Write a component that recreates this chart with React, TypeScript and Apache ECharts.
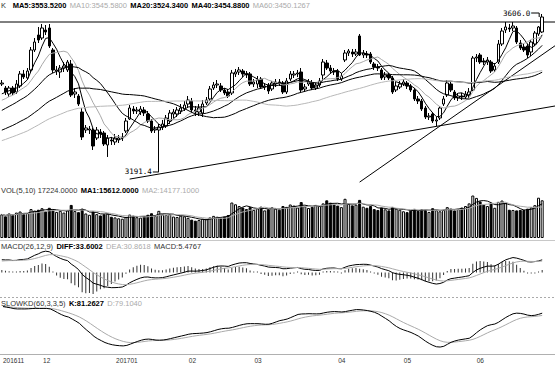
import React, { useEffect, useRef } from 'react';
import * as echarts from 'echarts';

const monthLabels = ['201611', '12', '201701', '02', '03', '04', '05', '06'];
const monthDays = [12, 22, 18, 18, 23, 18, 20, 18];

// closes before the visible window (warm-up for MA / MACD / KD)
const preCloses = [
  3205, 3212, 3198, 3190, 3208, 3215, 3222, 3210, 3200, 3218, 3226, 3231, 3225, 3220, 3214, 3228, 3235, 3230, 3238, 3232,
  3228, 3236, 3241, 3233, 3226, 3238, 3247, 3252, 3244, 3250, 3258, 3249, 3243, 3251, 3260, 3255, 3248, 3257, 3262, 3254,
  3280, 3296, 3305, 3298, 3312, 3325, 3336, 3330, 3348, 3362,
  3352, 3361, 3355, 3366, 3362, 3372, 3380, 3391, 3388, 3398,
];

// [open, close, low, high]
const candles = [
  [3422.3, 3424.9, 3417.1, 3432.8], [3411.8, 3401.3, 3393.4, 3417.1], [3396.1, 3411.8, 3388.2, 3417.1], [3411.8, 3398.7, 3393.4, 3417.1],
  [3401.3, 3422.3, 3396.1, 3432.8], [3417.1, 3448.6, 3411.8, 3456.4], [3448.6, 3440.7, 3435.4, 3459.1], [3438.1, 3456.4, 3432.8, 3464.3],
  [3459.1, 3511.5, 3453.8, 3519.4], [3511.5, 3532.5, 3506.3, 3543.0], [3550.9, 3537.8, 3529.9, 3571.9], [3543.0, 3569.3, 3537.8, 3579.8],
  [3564.0, 3558.8, 3550.9, 3577.1], [3569.3, 3522.0, 3516.8, 3579.8], [3511.5, 3459.1, 3451.2, 3516.8], [3456.4, 3459.1, 3445.9, 3469.5],
  [3453.8, 3464.3, 3438.1, 3472.2], [3464.3, 3469.5, 3453.8, 3480.0], [3459.1, 3480.0, 3453.8, 3485.3], [3474.8, 3393.4, 3388.2, 3485.3],
  [3396.1, 3401.3, 3385.6, 3411.8], [3390.8, 3369.8, 3364.6, 3396.1], [3348.8, 3283.2, 3275.4, 3359.3], [3301.6, 3306.9, 3293.7, 3314.7],
  [3301.6, 3304.2, 3291.1, 3312.1], [3301.6, 3259.6, 3249.1, 3306.9], [3280.6, 3301.6, 3275.4, 3309.5], [3296.4, 3291.1, 3280.6, 3304.2],
  [3293.7, 3264.9, 3259.6, 3299.0], [3262.3, 3280.6, 3230.8, 3288.5], [3275.4, 3272.8, 3262.3, 3283.2], [3270.1, 3280.6, 3262.3, 3291.1],
  [3275.4, 3280.6, 3267.5, 3288.5], [3280.6, 3283.2, 3272.8, 3293.7], [3299.0, 3325.2, 3293.7, 3333.1], [3330.5, 3359.3, 3327.9, 3367.2],
  [3356.7, 3351.5, 3343.6, 3364.6], [3351.5, 3354.1, 3343.6, 3362.0], [3348.8, 3356.7, 3341.0, 3364.6], [3354.1, 3346.2, 3338.3, 3362.0],
  [3343.6, 3325.2, 3320.0, 3351.5], [3325.2, 3299.0, 3293.7, 3330.5], [3301.6, 3304.2, 3293.7, 3312.1], [3301.6, 3309.5, 3191.4, 3317.4],
  [3309.5, 3317.4, 3301.6, 3327.9], [3312.1, 3333.1, 3306.9, 3341.0], [3325.2, 3346.2, 3317.4, 3354.1], [3343.6, 3348.8, 3333.1, 3356.7],
  [3343.6, 3354.1, 3335.7, 3362.0], [3351.5, 3359.3, 3343.6, 3369.8], [3356.7, 3367.2, 3351.5, 3377.7], [3369.8, 3380.3, 3359.3, 3390.8],
  [3377.7, 3354.1, 3346.2, 3385.6], [3354.1, 3348.8, 3338.3, 3364.6], [3348.8, 3359.3, 3338.3, 3369.8], [3346.2, 3369.8, 3335.7, 3380.3],
  [3372.5, 3380.3, 3367.2, 3388.2], [3383.0, 3409.2, 3377.7, 3417.1], [3411.8, 3419.7, 3406.6, 3427.6], [3419.7, 3422.3, 3411.8, 3432.8],
  [3417.1, 3406.6, 3401.3, 3424.9], [3406.6, 3398.7, 3393.4, 3411.8], [3401.3, 3390.8, 3385.6, 3409.2], [3398.7, 3451.2, 3393.4, 3459.1],
  [3448.6, 3453.8, 3440.7, 3461.7], [3453.8, 3459.1, 3445.9, 3466.9], [3456.4, 3448.6, 3440.7, 3461.7], [3448.6, 3445.9, 3438.1, 3456.4],
  [3448.6, 3422.3, 3417.1, 3453.8], [3422.3, 3427.6, 3414.4, 3435.4], [3422.3, 3432.8, 3411.8, 3443.3], [3435.4, 3414.4, 3409.2, 3440.7],
  [3414.4, 3417.1, 3406.6, 3424.9], [3419.7, 3403.9, 3396.1, 3424.9], [3409.2, 3424.9, 3403.9, 3430.2], [3422.3, 3427.6, 3414.4, 3435.4],
  [3427.6, 3424.9, 3417.1, 3435.4], [3424.9, 3401.3, 3396.1, 3430.2], [3401.3, 3430.2, 3396.1, 3438.1], [3435.4, 3448.6, 3430.2, 3456.4],
  [3445.9, 3448.6, 3438.1, 3456.4], [3448.6, 3451.2, 3440.7, 3459.1], [3453.8, 3406.6, 3401.3, 3464.3], [3409.2, 3414.4, 3401.3, 3422.3],
  [3422.3, 3427.6, 3417.1, 3435.4], [3424.9, 3411.8, 3406.6, 3432.8], [3411.8, 3419.7, 3406.6, 3427.6], [3419.7, 3430.2, 3414.4, 3438.1],
  [3445.9, 3480.0, 3432.8, 3487.9], [3477.4, 3464.3, 3459.1, 3485.3], [3464.3, 3456.4, 3448.6, 3472.2], [3456.4, 3453.8, 3445.9, 3464.3],
  [3456.4, 3435.4, 3430.2, 3461.7], [3435.4, 3443.3, 3430.2, 3451.2], [3485.3, 3503.7, 3480.0, 3511.5], [3503.7, 3508.9, 3495.8, 3514.2],
  [3506.3, 3501.0, 3493.2, 3514.2], [3501.0, 3506.3, 3495.8, 3514.2], [3548.3, 3498.4, 3495.8, 3553.5], [3498.4, 3503.7, 3490.5, 3511.5],
  [3501.0, 3498.4, 3490.5, 3508.9], [3501.0, 3480.0, 3474.8, 3506.3], [3474.8, 3466.9, 3459.1, 3480.0], [3466.9, 3464.3, 3456.4, 3474.8],
  [3459.1, 3438.1, 3432.8, 3464.3], [3440.7, 3445.9, 3432.8, 3453.8], [3445.9, 3438.1, 3432.8, 3451.2], [3438.1, 3401.3, 3396.1, 3443.3],
  [3406.6, 3417.1, 3401.3, 3427.6], [3414.4, 3422.3, 3409.2, 3430.2], [3422.3, 3427.6, 3417.1, 3435.4], [3424.9, 3417.1, 3409.2, 3430.2],
  [3417.1, 3406.6, 3401.3, 3422.3], [3406.6, 3383.0, 3377.7, 3411.8], [3383.0, 3377.7, 3369.8, 3390.8], [3377.7, 3356.7, 3351.5, 3383.0],
  [3359.3, 3335.7, 3330.5, 3364.6], [3335.7, 3338.3, 3327.9, 3346.2], [3343.6, 3325.2, 3320.0, 3348.8], [3325.2, 3327.9, 3312.1, 3335.7],
  [3333.1, 3359.3, 3327.9, 3364.6], [3369.8, 3383.0, 3364.6, 3390.8], [3393.4, 3424.9, 3388.2, 3432.8], [3422.3, 3406.6, 3401.3, 3427.6],
  [3401.3, 3385.6, 3380.3, 3406.6], [3385.6, 3390.8, 3377.7, 3398.7], [3390.8, 3388.2, 3380.3, 3398.7], [3388.2, 3396.1, 3383.0, 3403.9],
  [3393.4, 3401.3, 3385.6, 3411.8], [3406.6, 3490.5, 3403.9, 3495.8], [3490.5, 3493.2, 3480.0, 3501.0], [3498.4, 3480.0, 3474.8, 3503.7],
  [3482.7, 3480.0, 3472.2, 3490.5], [3480.0, 3485.3, 3472.2, 3493.2], [3480.0, 3456.4, 3451.2, 3485.3], [3459.1, 3469.5, 3453.8, 3477.4],
  [3480.0, 3527.3, 3474.8, 3537.8], [3527.3, 3561.4, 3522.0, 3569.3], [3564.0, 3571.9, 3556.1, 3585.0], [3569.3, 3566.6, 3558.8, 3579.8],
  [3569.3, 3574.5, 3561.4, 3585.0], [3569.3, 3532.5, 3527.3, 3574.5], [3529.9, 3516.8, 3511.5, 3537.8], [3519.4, 3511.5, 3506.3, 3527.3],
  [3522.0, 3498.4, 3490.5, 3527.3], [3506.3, 3532.5, 3495.8, 3537.8], [3527.3, 3556.1, 3522.0, 3561.4], [3553.5, 3571.9, 3548.3, 3574.5],
  [3558.8, 3598.1, 3556.1, 3606.0],
];

const volumes = [
  10800, 9900, 11200, 10400, 11600, 12100, 10900, 11400, 13200, 12500,
  12900, 13600, 12200, 13800, 12700,
  11900, 12400, 11600, 12800, 15100, 12300, 11800,
  13400, 11200, 10600, 12100, 10900, 10300,
  10800, 11100, 9700, 9400, 9000, 8800, 9600, 10700, 10200, 9500, 9300,
  9900, 10600, 11300, 10100, 12400, 10800, 10500, 10900, 9800, 9600, 10200, 9900,
  9200, 8400, 7900, 8200, 8800, 8600,
  9400, 10100, 9700, 9200, 9800, 10500,
  16200, 15400, 14600,
  13900, 13200, 14100, 12800, 13500, 14300, 12600, 13100, 14000, 13400, 12900,
  14600, 14200, 15300, 14800, 13900, 16400, 14500, 13700,
  14200, 15100, 14600, 15800, 17200, 16100, 15400, 14800,
  14100, 17900, 15600, 14900, 15200, 17400, 14300, 13800, 14600,
  13200, 12800, 13900, 13100, 12600, 14200, 13400, 12900, 12200, 11800, 12500, 13300,
  12400, 13100, 12800, 11900, 13600, 12700, 12200, 12900, 14100, 13400, 12600, 13200,
  13900, 14600, 15800, 19400, 18300, 16700,
  15200, 14600, 15900, 13800, 16500, 17100, 15900, 12900,
  12800, 12600, 12800, 12800,
  13400, 14000, 15000, 18400, 17224,
];

const maPeriods = [5, 10, 20, 40, 60];
const maColors = ['#000000', '#a8a8a8', '#000000', '#000000', '#b8b8b8'];
const resistancePrice = 3585.0;
// trend lines: two anchor points [index, price]
const trendLines = [
  [[35, 3172.8], [148, 3358.8]],
  [[98, 3164.9], [148, 3499.2]],
];

const legendMain = '{n|K}  {b|MA5:3553.5200} {g|MA10:3545.5800} {b|MA20:3524.3400} {b|MA40:3454.8800} {g|MA60:3450.1267}';
const legendVol = '{n|VOL(5,10) 17224.0000} {b|MA1:15612.0000} {g|MA2:14177.1000}';
const legendMacd = '{n|MACD(26,12,9)} {b|DIFF:33.6002} {g|DEA:30.8618} {n|MACD:5.4767}';
const legendKd = '{n|SLOWKD(60,3,3,5)} {b|K:81.2627} {g|D:79.1040}';

const FONT = 'Liberation Sans, Arial, sans-serif';
const rich = {
  n: { fill: '#333', fontSize: 7.5, fontFamily: FONT },
  b: { fill: '#000', fontSize: 7.5, fontFamily: FONT, fontWeight: 'bold' },
  g: { fill: '#aaaaaa', fontSize: 7.5, fontFamily: FONT },
};

export default function App() {
  const ref = useRef<HTMLDivElement>(null);
  useEffect(() => {
    const chart = echarts.init(ref.current!, undefined, { renderer: 'svg' });

    const categories: string[] = [];
    monthLabels.forEach((m, mi) => {
      for (let d = 0; d < monthDays[mi]; d++) categories.push(m + '-' + d);
    });

    const P = preCloses.length;
    const closes = candles.map((c) => c[1]);
    const allCloses = preCloses.concat(closes);
    const allHighs = preCloses.concat(candles.map((c) => c[3]));
    const allLows = preCloses.concat(candles.map((c) => c[2]));

    const ma = (n: number) =>
      closes.map((_, i) => {
        let s = 0;
        for (let k = P + i - n + 1; k <= P + i; k++) s += allCloses[k];
        return +(s / n).toFixed(2);
      });

    const ema = (arr: number[], n: number) => {
      const out: number[] = [];
      arr.forEach((v, i) => out.push(i === 0 ? v : (2 * v + (n - 1) * out[i - 1]) / (n + 1)));
      return out;
    };
    const e12 = ema(allCloses, 12);
    const e26 = ema(allCloses, 26);
    const diffAll = e12.map((v, i) => v - e26[i]);
    const deaAll = ema(diffAll, 9);
    const diff = diffAll.slice(P);
    const dea = deaAll.slice(P);
    const hist = diff.map((v, i) => 2 * (v - dea[i]));

    const N = 60;
    let fk = 0, kk = 0, dd = 0;
    const K: number[] = [], D: number[] = [];
    for (let t = 0; t < allCloses.length; t++) {
      let hi = -Infinity, lo = Infinity;
      for (let j = Math.max(0, t - N + 1); j <= t; j++) {
        hi = Math.max(hi, allHighs[j]);
        lo = Math.min(lo, allLows[j]);
      }
      const rsv = hi > lo ? ((allCloses[t] - lo) / (hi - lo)) * 100 : 50;
      if (t === 0) { fk = rsv; kk = rsv; dd = rsv; }
      else { fk = (rsv + 2 * fk) / 3; kk = (fk + 2 * kk) / 3; dd = (kk + 4 * dd) / 5; }
      K.push(kk); D.push(dd);
    }
    const kVis = K.slice(P), dVis = D.slice(P);

    const volMa = (n: number) =>
      volumes.map((_, i) => {
        const s = Math.max(0, i - n + 1);
        let sum = 0;
        for (let j = s; j <= i; j++) sum += volumes[j];
        return sum / (i - s + 1);
      });

    const macdMax = Math.max(...diff.map(Math.abs), ...dea.map(Math.abs), ...hist.map(Math.abs)) * 1.05;

    const grids = [
      { left: 0, right: 11, top: 10, height: 170 },
      { left: 0, right: 11, top: 192, height: 46 },
      { left: 0, right: 11, top: 250, height: 45 },
      { left: 0, right: 11, top: 306, height: 47 },
    ];
    const xAxes = grids.map((_, gi) => ({
      type: 'category',
      gridIndex: gi,
      data: categories,
      boundaryGap: true,
      axisLine: { show: false },
      axisTick: { show: false },
      splitLine: { show: false },
      axisLabel:
        gi === 3
          ? {
              show: true,
              interval: (_i: number, v: string) => v.endsWith('-0'),
              formatter: (v: string) => (v.endsWith('-0') ? v.split('-')[0] : ''),
              fontSize: 6.5,
              fontFamily: FONT,
              color: '#333',
              margin: 4,
              alignMinLabel: 'left',
            }
          : { show: false },
    }));
    const yBase = { show: false, splitLine: { show: false } };

    const series: any[] = [
      {
        type: 'candlestick',
        xAxisIndex: 0,
        yAxisIndex: 0,
        data: candles,
        barWidth: 3,
        itemStyle: { color: '#ffffff', color0: '#000000', borderColor: '#000000', borderColor0: '#000000', borderWidth: 1 },
      },
    ];
    maPeriods.forEach((n, k) => {
      series.push({
        type: 'line', xAxisIndex: 0, yAxisIndex: 0, data: ma(n), showSymbol: false, symbol: 'none',
        lineStyle: { width: 1, color: maColors[k] }, z: 3,
      });
    });
    series.push({
      type: 'bar', xAxisIndex: 1, yAxisIndex: 1, barWidth: 3,
      data: volumes.map((v, i) => ({
        value: v,
        itemStyle: { color: candles[i][1] >= candles[i][0] ? '#ffffff' : '#000000', borderColor: '#000000', borderWidth: 1 },
      })),
    });
    series.push({ type: 'line', xAxisIndex: 1, yAxisIndex: 1, data: volMa(5), symbol: 'none', lineStyle: { width: 1, color: '#000' }, z: 3 });
    series.push({ type: 'line', xAxisIndex: 1, yAxisIndex: 1, data: volMa(10), symbol: 'none', lineStyle: { width: 1, color: '#aaa' }, z: 3 });
    series.push({ type: 'bar', xAxisIndex: 2, yAxisIndex: 2, barWidth: 1, barMinHeight: 1, data: hist, itemStyle: { color: '#333' } });
    series.push({ type: 'line', xAxisIndex: 2, yAxisIndex: 2, data: diff, symbol: 'none', lineStyle: { width: 1, color: '#000' }, z: 3 });
    series.push({ type: 'line', xAxisIndex: 2, yAxisIndex: 2, data: dea, symbol: 'none', lineStyle: { width: 1, color: '#aaa' }, z: 3 });
    series.push({ type: 'line', xAxisIndex: 3, yAxisIndex: 3, data: kVis, symbol: 'none', lineStyle: { width: 1, color: '#000' }, z: 3 });
    series.push({ type: 'line', xAxisIndex: 3, yAxisIndex: 3, data: dVis, symbol: 'none', lineStyle: { width: 1, color: '#aaa' }, z: 2 });

    chart.setOption({
      animation: false,
      backgroundColor: '#ffffff',
      grid: grids,
      xAxis: xAxes,
      yAxis: [
        { ...yBase, gridIndex: 0, min: 3170.4, max: 3616.5 },
        { ...yBase, gridIndex: 1, min: 0, max: 21000 },
        { ...yBase, gridIndex: 2, min: -macdMax, max: macdMax },
        { ...yBase, gridIndex: 3, min: 0, max: 100 },
      ],
      series,
    });

    const px = (i: number, v: number) => chart.convertToPixel({ xAxisIndex: 0, yAxisIndex: 0 }, [i, v]) as number[];
    const W = 555;
    const graphics: any[] = [];
    // legends
    graphics.push({ type: 'text', x: 1, y: 5.5, style: { text: legendMain, rich, verticalAlign: 'middle' } });
    graphics.push({ type: 'text', x: 1, y: 190, style: { text: legendVol, rich, verticalAlign: 'middle' } });
    graphics.push({ type: 'text', x: 1, y: 246, style: { text: legendMacd, rich, verticalAlign: 'middle' } });
    graphics.push({ type: 'text', x: 1, y: 303.5, style: { text: legendKd, rich, verticalAlign: 'middle' } });
    // separators
    graphics.push({ type: 'line', shape: { x1: 0, y1: 240.5, x2: W, y2: 240.5 }, style: { stroke: '#c8c8c8', lineWidth: 1 } });
    graphics.push({ type: 'line', shape: { x1: 0, y1: 297.5, x2: W, y2: 297.5 }, style: { stroke: '#aaaaaa', lineWidth: 1, lineDash: [2, 2] } });
    graphics.push({ type: 'line', shape: { x1: 0, y1: 354.5, x2: W, y2: 354.5 }, style: { stroke: '#b0b0b0', lineWidth: 1 } });
    // resistance line
    const ry = px(0, resistancePrice)[1];
    graphics.push({ type: 'line', shape: { x1: 0, y1: ry, x2: W, y2: ry }, style: { stroke: '#000', lineWidth: 1 } });
    // trend lines
    trendLines.forEach(([a, b]) => {
      const p1 = px(a[0], a[1]);
      const p2 = px(b[0], b[1]);
      const slope = (p2[1] - p1[1]) / (p2[0] - p1[0]);
      graphics.push({
        type: 'line',
        shape: { x1: p1[0], y1: p1[1], x2: W, y2: p1[1] + (W - p1[0]) * slope },
        style: { stroke: '#000', lineWidth: 1 },
      });
    });
    // high / low annotations
    let hiIdx = 0, loIdx = 0;
    candles.forEach((c, i) => {
      if (c[3] > candles[hiIdx][3]) hiIdx = i;
      if (c[2] < candles[loIdx][2]) loIdx = i;
    });
    const hp = px(hiIdx, candles[hiIdx][3]);
    const lp = px(loIdx, candles[loIdx][2]);
    const annFont = { fontSize: 7.5, fontFamily: 'DejaVu Sans Mono, monospace', fill: '#000' };
    graphics.push({ type: 'text', x: hp[0] - 12, y: hp[1] - 1, style: { text: candles[hiIdx][3].toFixed(1), align: 'right', verticalAlign: 'middle', ...annFont } });
    graphics.push({ type: 'polyline', shape: { points: [[hp[0] - 11, hp[1] - 1], [hp[0] - 3, hp[1] - 1], [hp[0] - 3, hp[1] + 3]] }, style: { stroke: '#000', lineWidth: 1, fill: 'none' } });
    graphics.push({ type: 'text', x: lp[0] - 7, y: lp[1], style: { text: candles[loIdx][2].toFixed(1), align: 'right', verticalAlign: 'middle', ...annFont } });
    graphics.push({ type: 'line', shape: { x1: lp[0] - 6, y1: lp[1], x2: lp[0], y2: lp[1] }, style: { stroke: '#000', lineWidth: 1 } });

    chart.setOption({ graphic: graphics });

    return () => chart.dispose();
  }, []);
  return <div ref={ref} style={{ position: 'absolute', left: 0, top: 0, width: 555, height: 365 }} />;
}
